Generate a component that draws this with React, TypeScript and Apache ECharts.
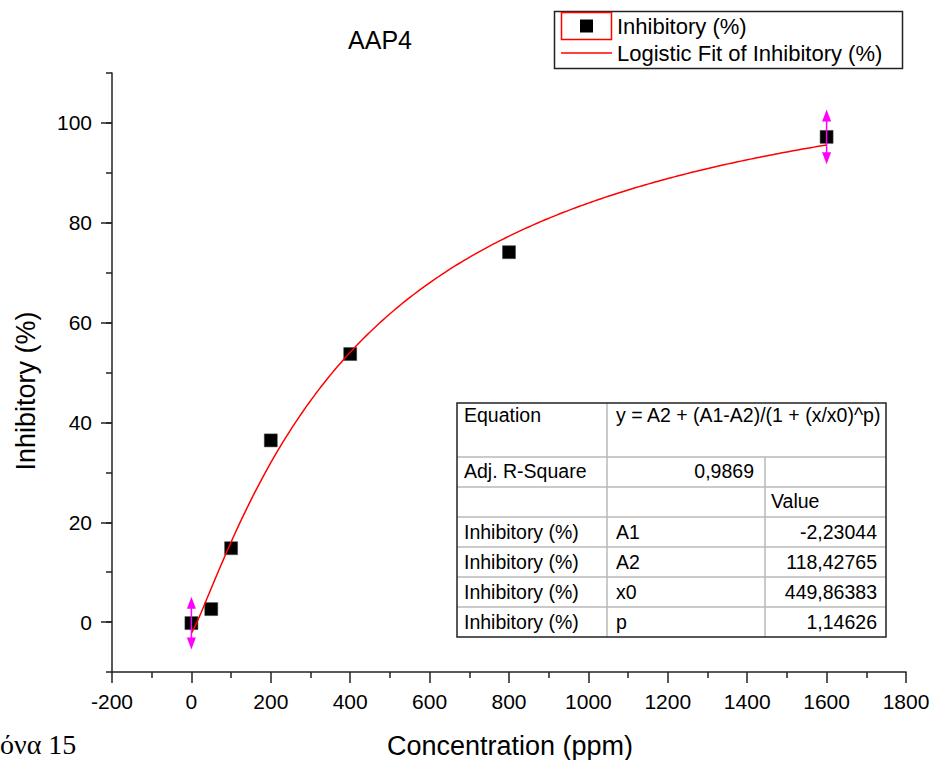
import React, { useEffect, useRef } from "react";
import * as echarts from "echarts";

// ---- data ----
const concentrations = [0, 50, 100, 200, 400, 800, 1600];
const inhibitory = [-0.2, 2.6, 14.8, 36.4, 53.7, 74.1, 97.2];

const errorX = [0, 1600];
const errorY = [-0.2, 97.2];
const errorSize = [5.3, 5.5];

const xTickMin = -200;
const xTickMax = 1800;
const xTickStep = 200;
const yAxisMin = -10;
const yAxisMax = 110;
const yMinorStep = 10;
const yLabelMin = 0;
const yLabelMax = 100;
const yMajorStep = 20;

// logistic fit parameters (from the table)
const paramNames = ["A1", "A2", "x0", "p"];
const paramValues = [-2.23044, 118.42765, 449.86383, 1.14626];
const adjRSquare = 0.9869;
const fitStart = 0;
const fitEnd = 1600;
const fitStep = 8;

const titleText = "AAP4";
const xName = "Concentration (ppm)";
const yName = "Inhibitory (%)";
const seriesName = "Inhibitory (%)";
const fitName = "Logistic Fit of Inhibitory (%)";
const equationText = "y = A2 + (A1-A2)/(1 + (x/x0)^p)";
const captionText = "όνα 15";

const FONT = "Liberation Sans, Arial, sans-serif";

function fitValue(x: number): number {
  const [A1, A2, x0, p] = paramValues;
  return A2 + (A1 - A2) / (1 + Math.pow(x / x0, p));
}

const fmt = (v: number, d: number) => v.toFixed(d).replace(".", ",");

export default function App() {
  const ref = useRef<HTMLDivElement>(null);

  useEffect(() => {
    if (!ref.current) return;
    const chart = echarts.init(ref.current, undefined, { renderer: "svg" });

    const fitData: number[][] = [];
    for (let x = fitStart; x <= fitEnd; x += fitStep) fitData.push([x, fitValue(x)]);

    const scatterData = concentrations.map((x, i) => [x, inhibitory[i]]);
    const errData = errorX.map((x, i) => [x, errorY[i], errorSize[i]]);

    const axisColor = "#222";
    const txt = (
      text: string,
      x: number,
      y: number,
      size: number,
      align: string = "left",
      extra: any = {}
    ) => ({
      type: "text",
      x,
      y,
      style: {
        text,
        fontSize: size,
        fontFamily: FONT,
        fill: "#000",
        align,
        verticalAlign: "middle",
      },
      ...extra,
    });

    // main plot area
    const gLeft = 112, gRight = 27, gTop = 73, gBottom = 88;
    const plotH = 760 - gTop - gBottom;
    const pxPerUnit = plotH / (yAxisMax - yAxisMin);
    // second grid holding the labelled major ticks (same scale, 0..100)
    const g2Top = gTop + (yAxisMax - yLabelMax) * pxPerUnit;
    const g2Bottom = gBottom + (yLabelMin - yAxisMin) * pxPerUnit;

    // table geometry
    const tL = 457, tR = 886, tT = 403, tB = 637;
    const c1 = 607, c2 = 765;
    const rowLines = [457, 487, 517, 547, 577, 607];
    const paramRowsY = [532, 562, 592, 622];
    const tableFont = 19.5;
    const grey = "#b8b8b8";

    const graphics: any[] = [
      txt(titleText, 380, 40, 25, "center"),
      {
        ...txt(yName, 26, 391, 27, "center"),
        rotation: Math.PI / 2,
      },
      txt(xName, 510, 746, 27, "center"),
      {
        type: "text",
        x: 0,
        y: 744,
        style: {
          text: captionText,
          fontSize: 28,
          fontFamily: "Liberation Serif, Times New Roman, serif",
          fill: "#000",
          align: "left",
          verticalAlign: "middle",
        },
      },
      // legend
      {
        type: "rect",
        shape: { x: 554.5, y: 11.5, width: 348, height: 57 },
        style: { fill: "#fff", stroke: "#222", lineWidth: 1.5 },
      },
      {
        type: "rect",
        shape: { x: 561.5, y: 12.5, width: 50, height: 27 },
        style: { fill: "none", stroke: "#ff0000", lineWidth: 1.5 },
      },
      {
        type: "rect",
        shape: { x: 580, y: 19.5, width: 13, height: 13 },
        style: { fill: "#000" },
      },
      {
        type: "line",
        shape: { x1: 561, y1: 53, x2: 612, y2: 53 },
        style: { stroke: "#ff0000", lineWidth: 1.5 },
      },
      txt(seriesName, 617, 26, 22),
      txt(fitName, 617, 53, 22),
      // table
      {
        type: "rect",
        shape: { x: tL, y: tT, width: tR - tL, height: tB - tT },
        style: { fill: "#fff", stroke: "none" },
      },
      ...rowLines.map((y) => ({
        type: "line",
        shape: { x1: tL, y1: y, x2: tR, y2: y },
        style: { stroke: grey, lineWidth: 1.5 },
      })),
      {
        type: "line",
        shape: { x1: c1, y1: tT, x2: c1, y2: tB },
        style: { stroke: grey, lineWidth: 1.5 },
      },
      {
        type: "line",
        shape: { x1: c2, y1: rowLines[0], x2: c2, y2: tB },
        style: { stroke: grey, lineWidth: 1.5 },
      },
      {
        type: "rect",
        shape: { x: tL, y: tT, width: tR - tL, height: tB - tT },
        style: { fill: "none", stroke: "#222", lineWidth: 1.5 },
      },
      txt("Equation", 464, 415, tableFont),
      txt(equationText, 616, 415, tableFont),
      txt("Adj. R-Square", 464, 471, tableFont),
      txt(fmt(adjRSquare, 4), 754, 471, tableFont, "right"),
      txt("Value", 771, 501, tableFont),
      ...paramNames.flatMap((name, i) => [
        txt(seriesName, 464, paramRowsY[i], tableFont),
        txt(name, 616, paramRowsY[i], tableFont),
        txt(fmt(paramValues[i], 5), 877, paramRowsY[i], tableFont, "right"),
      ]),
    ];

    const tickStyle = { color: axisColor, width: 1.5 };

    const option: any = {
      animation: false,
      backgroundColor: "#ffffff",
      textStyle: { fontFamily: FONT },
      grid: [
        {
          left: gLeft, right: gRight, top: gTop, bottom: gBottom,
          containLabel: false, outerBoundsMode: "none",
        },
        {
          left: gLeft, right: gRight, top: g2Top, bottom: g2Bottom,
          containLabel: false, outerBoundsMode: "none",
        },
      ],
      xAxis: [
        {
          type: "value",
          gridIndex: 0,
          min: xTickMin,
          max: xTickMax,
          interval: xTickStep,
          axisLine: { show: true, onZero: false, lineStyle: tickStyle },
          axisTick: { show: true, inside: false, length: 11, lineStyle: tickStyle },
          minorTick: { show: true, splitNumber: 2, length: 6, lineStyle: tickStyle },
          axisLabel: {
            fontSize: 21,
            color: "#000",
            margin: 19,
            fontFamily: FONT,
            formatter: (v: number) => String(v),
          },
          splitLine: { show: false },
          minorSplitLine: { show: false },
        },
        {
          type: "value",
          gridIndex: 1,
          min: xTickMin,
          max: xTickMax,
          show: false,
        },
      ],
      yAxis: [
        {
          type: "value",
          gridIndex: 0,
          min: yAxisMin,
          max: yAxisMax,
          interval: yMinorStep,
          position: "left",
          axisLine: { show: true, onZero: false, lineStyle: tickStyle },
          axisTick: { show: true, inside: false, length: 6, lineStyle: tickStyle },
          axisLabel: { show: false },
          splitLine: { show: false },
        },
        {
          type: "value",
          gridIndex: 1,
          min: yLabelMin,
          max: yLabelMax,
          interval: yMajorStep,
          position: "left",
          axisLine: { show: false, onZero: false },
          axisTick: { show: true, inside: false, length: 11, lineStyle: tickStyle },
          axisLabel: { fontSize: 21, color: "#000", margin: 20, fontFamily: FONT },
          splitLine: { show: false },
        },
      ],
      series: [
        {
          name: seriesName,
          type: "scatter",
          xAxisIndex: 0,
          yAxisIndex: 0,
          data: scatterData,
          symbol: "rect",
          symbolSize: 13,
          itemStyle: { color: "#000", borderColor: "#444", borderWidth: 0.5, opacity: 1 },
          z: 2,
        },
        {
          name: fitName,
          type: "line",
          xAxisIndex: 0,
          yAxisIndex: 0,
          data: fitData,
          showSymbol: false,
          symbol: "none",
          smooth: false,
          lineStyle: { color: "#ff0000", width: 1.5 },
          z: 3,
        },
        {
          name: "error",
          type: "custom",
          xAxisIndex: 0,
          yAxisIndex: 0,
          data: errData,
          clip: false,
          z: 4,
          renderItem: (params: any, api: any) => {
            const x = api.value(0);
            const y = api.value(1);
            const e = api.value(2);
            const t = api.coord([x, y + e]);
            const b = api.coord([x, y - e]);
            const hw = 4.5;
            const hh = 12;
            const col = "#ff00ff";
            return {
              type: "group",
              children: [
                {
                  type: "line",
                  shape: { x1: t[0], y1: t[1] + hh - 2, x2: b[0], y2: b[1] - hh + 2 },
                  style: { stroke: col, lineWidth: 1.5 },
                },
                {
                  type: "polygon",
                  shape: { points: [[t[0], t[1]], [t[0] - hw, t[1] + hh], [t[0] + hw, t[1] + hh]] },
                  style: { fill: col },
                },
                {
                  type: "polygon",
                  shape: { points: [[b[0], b[1]], [b[0] - hw, b[1] - hh], [b[0] + hw, b[1] - hh]] },
                  style: { fill: col },
                },
              ],
            };
          },
        },
      ],
      graphic: graphics,
    };

    chart.setOption(option);
    return () => chart.dispose();
  }, []);

  return (
    <div
      ref={ref}
      style={{ position: "absolute", left: 0, top: 0, width: 933, height: 760, background: "#fff" }}
    />
  );
}
